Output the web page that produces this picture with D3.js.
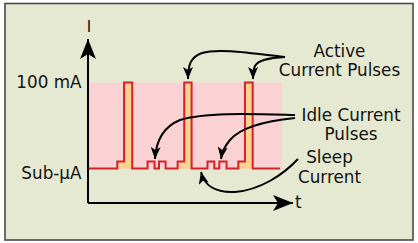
<!DOCTYPE html>
<html><head><meta charset="utf-8">
<script src="https://cdn.jsdelivr.net/npm/d3@7"></script>
<style>
html,body{margin:0;padding:0;background:#fff;}
svg{display:block;}
text{font-family:"DejaVu Sans", sans-serif;fill:#111;}
</style></head>
<body>
<svg id="c" width="418" height="243"></svg>
<script>
// ---- data ----
const times  = [0, 15.1, 18.6, 22.8, 30.7, 34.3, 36.6, 40.0, 46.2, 49.6, 53.4, 61.6, 65.1, 67.7, 71.4, 77.5, 80.9, 84.9, 99.0];
const levels = [0, 8,    100,  0,    8,    0,    8,    0,    8,    100,  0,    8,    0,    8,    0,    8,    100,  0,    0];
const tickValues = [0, 100];
const tickLabels = ["Sub-µA", "100 mA"];
const axisLabels = ["I", "t"];
const callouts = [
  {lines:["Active", "Current Pulses"]},
  {lines:["Idle Current", "Pulses"]},
  {lines:["Sleep", "Current"]}
];

// ---- layout ----
const svg = d3.select("#c");
const FS = 16.8;
const x = d3.scaleLinear().domain([0, 100]).range([88, 282]);
const y = d3.scaleLinear().domain([0, 100]).range([168.5, 82.5]);
const axisY = 203, axisTop = 39, axisRight = 293;

// frame
svg.append("rect").attr("x",5).attr("y",3.5).attr("width",408).attr("height",236.5)
  .attr("fill","#e6e9d2").attr("stroke","#4a4a4a").attr("stroke-width",1.6);

// pink region
svg.append("rect").attr("x",x(0)).attr("y",y(100)).attr("width",x(100)-x(0)).attr("height",y(0)-y(100))
  .attr("fill","#fbd2d4");

const pts = times.map((t,i)=>({t, v: levels[i]}));

// orange fills for active pulses (pre-step + pulse)
const area = d3.area().curve(d3.curveStepAfter).x(d=>x(d.t)).y0(y(0)).y1(d=>y(d.v));
for (let i=0;i<pts.length-1;i++){
  const isActive = pts[i].v===100 || (pts[i+1].v===100);
  if (isActive && pts[i].v>0){
    svg.append("path").attr("d", area([pts[i], {t:pts[i+1].t, v:pts[i].v}]))
      .attr("fill","#fdd18e");
  }
}

// signal line
const line = d3.line().curve(d3.curveStepAfter).x(d=>x(d.t)).y(d=>y(d.v));
svg.append("path").attr("d", line(pts)).attr("fill","none")
  .attr("stroke","#d2222a").attr("stroke-width",2).attr("stroke-linejoin","miter");

// axes
const defs = svg.append("defs");
defs.append("marker").attr("id","bigArrow").attr("viewBox","0 0 20 16")
  .attr("refX",20).attr("refY",8).attr("markerWidth",20).attr("markerHeight",16)
  .attr("markerUnits","userSpaceOnUse").attr("orient","auto")
  .append("path").attr("d","M0,0 L20,8 L0,16 L5,8 Z").attr("fill","#000");
defs.append("marker").attr("id","smallArrow").attr("viewBox","0 0 12 10")
  .attr("refX",12).attr("refY",5).attr("markerWidth",12).attr("markerHeight",10)
  .attr("markerUnits","userSpaceOnUse").attr("orient","auto")
  .append("path").attr("d","M0,0 L12,5 L0,10 L3,5 Z").attr("fill","#000");

svg.append("line").attr("x1",x(0)).attr("y1",axisY).attr("x2",x(0)).attr("y2",axisTop)
  .attr("stroke","#000").attr("stroke-width",2).attr("marker-end","url(#bigArrow)");
svg.append("line").attr("x1",x(0)).attr("y1",axisY).attr("x2",axisRight).attr("y2",axisY)
  .attr("stroke","#000").attr("stroke-width",2).attr("marker-end","url(#bigArrow)");

svg.append("text").attr("x",x(0)+1).attr("y",32).attr("text-anchor","middle")
  .attr("font-size",15).text(axisLabels[0]);
svg.append("text").attr("x",axisRight+2).attr("y",208)
  .attr("font-size",FS).text(axisLabels[1]);

// tick labels
const tickDy = [10.5, 5];
tickValues.forEach((v,i)=>{
  svg.append("text").attr("x",81.5).attr("y",y(v)+tickDy[i]).attr("text-anchor","end")
    .attr("font-size",FS).text(tickLabels[i]);
});

// callout labels
const calloutPos = [
  {cx:339.5, y0:56.5, dy:19.5},
  {cx:351, y0:120.6, dy:19.5},
  {cx:329.5, y0:163.3, dy:19.5}
];
callouts.forEach((c,i)=>{
  const p = calloutPos[i];
  c.lines.forEach((ln,j)=>{
    svg.append("text").attr("x",p.cx).attr("y",p.y0+j*p.dy).attr("text-anchor","middle")
      .attr("font-size",FS).text(ln);
  });
});

// callout arrows
const arrowPaths = [
  "M285,57 C250,53 218,48 202,53 C191,57 188,64 188,79",
  "M285,57 C268,58 258,60 255,66 C253,70 253,74 253,79",
  "M295,115 C255,114 205,112 180,120 C163,127 156,140 155,159",
  "M295,118 C265,121 240,128 230,140 C224,147 222,152 221,159",
  "M298,159 C283,175 260,190 235,192 C215,193 204,185 201,172"
];
arrowPaths.forEach(d=>{
  svg.append("path").attr("d",d).attr("fill","none").attr("stroke","#000")
    .attr("stroke-width",2).attr("marker-end","url(#smallArrow)");
});
</script>
</body></html>
